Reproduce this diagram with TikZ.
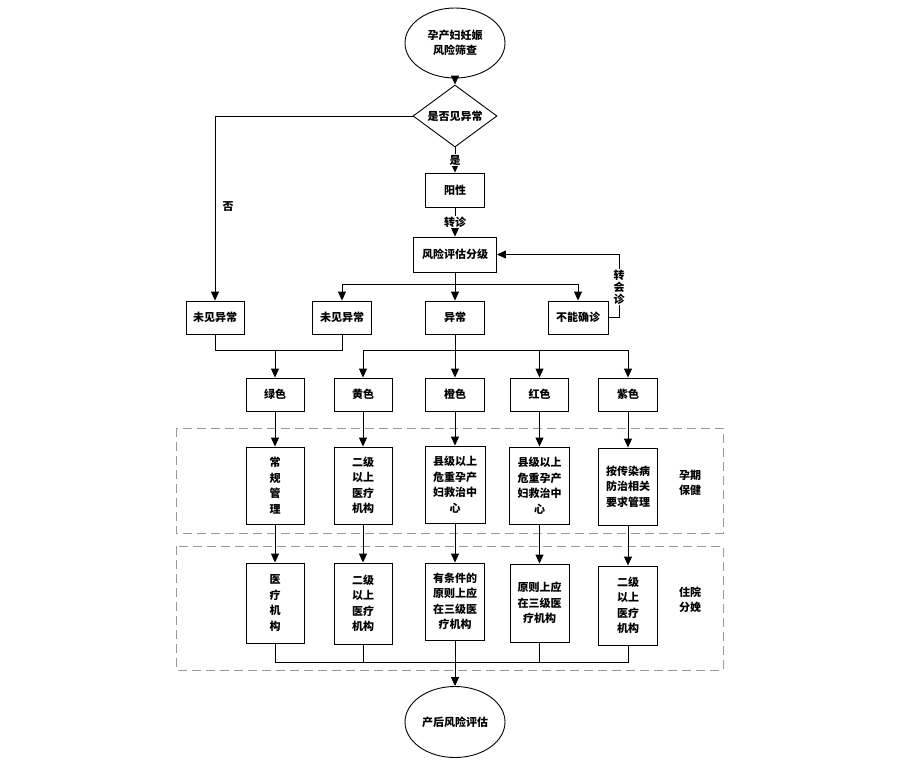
\documentclass[tikz,border=0pt]{standalone}
\usepackage{fontspec}
\newfontfamily\cjk{Noto Sans CJK SC}
\usetikzlibrary{shapes.geometric,arrows.meta}
\tikzset{
  txt/.style={font=\cjk\bfseries\fontsize{11}{15.5}\selectfont},
  box/.style={txt,draw,line width=0.9pt,align=center,inner sep=1pt,minimum width=58pt},
  oval/.style={txt,draw,line width=0.9pt,ellipse,align=center,inner sep=0pt,minimum width=100pt,minimum height=70pt},
  arr/.style={line width=0.9pt,-{Triangle[length=9pt,width=8pt]}},
  ln/.style={line width=0.9pt},
  lbl/.style={txt,fill=white,inner sep=1pt},
  grp/.style={draw=gray!80,dashed,dash pattern=on 9pt off 5pt,line width=0.9pt},
}
\begin{document}
\begin{tikzpicture}[x=1pt,y=-1pt]
\useasboundingbox (0,0) rectangle (900,780);
\fill[white] (0,0) rectangle (900,780);
% groups
\draw[grp] (176,428) rectangle (723,533);
\draw[grp] (176,546) rectangle (723,670);
\node[txt,align=center] (lg1) at (690,483) {孕期\\保健};
\node[txt,align=center] (lg2) at (690,600) {住院\\分娩};
% top
\node[oval] (top) at (455,43) {孕产妇妊娠\\风险筛查};
\node[txt,draw,line width=0.9pt,diamond,aspect=1.35,inner sep=0pt,minimum width=84pt,minimum height=62pt] (dia) at (455,116) {是否见异常};
\node[box,minimum width=59pt,minimum height=34pt] (yang) at (455,190) {阳性};
\node[box,minimum width=83pt,minimum height=35pt] (fx) at (455,254.5) {风险评估分级};
% row of four
\node[box,minimum height=33pt] (n1) at (215,317.5) {未见异常};
\node[box,minimum width=59pt,minimum height=33pt] (n2) at (342,317.5) {未见异常};
\node[box,minimum width=59pt,minimum height=33pt] (yc) at (455,317.5) {异常};
\node[box,minimum width=60pt,minimum height=33pt] (bn) at (578,317.5) {不能确诊};
% colours
\node[box,minimum height=33pt] (c1) at (275,394.5) {绿色};
\node[box,minimum height=33pt] (c2) at (363,394.5) {黄色};
\node[box,minimum width=59pt,minimum height=33pt] (c3) at (455,394.5) {橙色};
\node[box,minimum height=33pt] (c4) at (539.5,394.5) {红色};
\node[box,minimum width=59pt,minimum height=33pt] (c5) at (628,394.5) {紫色};
% row 2
\node[box,minimum height=77pt] (p1) at (275,485.5) {常\\规\\管\\理};
\node[box,minimum height=77pt] (p2) at (363,485.5) {二级\\以上\\医疗\\机构};
\node[box,minimum width=60pt,minimum height=77pt] (p3) at (455,484.5) {县级以上\\危重孕产\\妇救治中\\心};
\node[box,minimum width=60pt,minimum height=77pt] (p4) at (539.5,485.5) {县级以上\\危重孕产\\妇救治中\\心};
\node[box,minimum width=59pt,minimum height=77pt] (p5) at (628,486.5) {按传染病\\防治相关\\要求管理};
% row 3
\node[box,minimum height=80pt] (h1) at (275,603) {医\\疗\\机\\构};
\node[box,minimum height=81pt] (h2) at (363,603.5) {二级\\以上\\医疗\\机构};
\node[box,minimum width=59pt,minimum height=77pt] (h3) at (455,601.5) {有条件的\\原则上应\\在三级医\\疗机构};
\node[box,minimum width=59pt,minimum height=78pt] (h4) at (539.5,603) {原则上应\\在三级医\\疗机构};
\node[box,minimum width=59pt,minimum height=79pt] (h5) at (628,605.5) {二级\\以上\\医疗\\机构};
% bottom
\node[oval,minimum height=71pt] (bot) at (455,722) {产后风险评估};
% coordinates
\coordinate (lft) at (215,116);
\coordinate (b1) at (455,284);
\coordinate (rl) at (619,254.5);
\coordinate (j1) at (275,350.5);
\coordinate (j2) at (455,350.5);
\coordinate (j3) at (455,662);
% connectors
\draw[arr] (top) -- (dia);
\draw[arr] (dia.west) -- (lft) -- (n1.north);
\node[lbl] (no) at (228,207) {否};
\draw[arr] (dia.south) -- (yang.north) node[lbl,midway] (yes) {是};
\draw[arr] (yang.south) -- (fx.north) node[lbl,midway] (zz) {转诊};
\draw[arr] (fx.south) -- (yc.north);
\draw[arr] (b1) -| (n2.north);
\draw[arr] (b1) -| (bn.north);
\draw[arr] (bn.east) -| (rl) -- (fx.east);
\node[lbl,align=center,font=\cjk\bfseries\fontsize{11}{12}\selectfont] (hz) at (619,287) {转\\会\\诊};
\draw[ln] (n1.south) |- (j1);
\draw[ln] (n2.south) |- (j1);
\draw[arr] (j1) -- (c1.north);
\draw[ln] (yc.south) -- (j2);
\draw[arr] (j2) -| (c2.north);
\draw[arr] (j2) -- (c3.north);
\draw[arr] (j2) -| (c4.north);
\draw[arr] (j2) -| (c5.north);
\foreach \a/\b in {c1/p1,c2/p2,c3/p3,c4/p4,c5/p5,p1/h1,p2/h2,p3/h3,p4/h4,p5/h5}
  \draw[arr] (\a.south) -- (\b.north);
\draw[ln] (h1.south) |- (j3);
\draw[ln] (h2.south) |- (j3);
\draw[ln] (h4.south) |- (j3);
\draw[ln] (h5.south) |- (j3);
\draw[ln] (h3.south) -- (j3);
\draw[arr] (j3) -- (bot.north);
\end{tikzpicture}
\end{document}
